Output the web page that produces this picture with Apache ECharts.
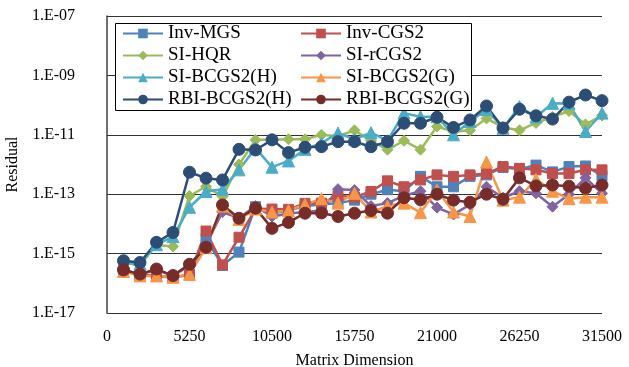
<!DOCTYPE html>
<html>
<head>
<meta charset="utf-8">
<script src="https://cdn.jsdelivr.net/npm/echarts@6/dist/echarts.min.js"></script>
<style>
  html, body { margin: 0; padding: 0; background: #fff; }
  #main { width: 629px; height: 367px; }
</style>
</head>
<body>
<div id="main"></div>
<script>
// matrix dimension
var dims = [1050, 2100, 3150, 4200, 5250, 6300, 7350, 8400, 9450, 10500,
  11550, 12600, 13650, 14700, 15750, 16800, 17850, 18900, 19950, 21000,
  22050, 23100, 24150, 25200, 26250, 27300, 28350, 29400, 30450, 31500];

// residuals as log10 values (the axis is a log10 scale)
var invMGS = [-15.55, -15.7, -15.75, -15.8, -15.7, -14.5, -15.4, -14.95, -13.42, -13.64,
  -13.55, -13.4, -13.35, -13.3, -13.2, -13.0, -12.85, -12.9, -12.4, -12.75,
  -12.75, -12.4, -12.35, -12.1, -12.15, -12.02, -12.25, -12.07, -12.05, -12.38];
var invCGS2 = [-15.55, -15.72, -15.77, -15.8, -15.72, -14.24, -15.38, -14.45, -13.49, -13.5,
  -13.51, -13.31, -13.3, -13.05, -13.1, -12.91, -12.55, -12.75, -12.52, -12.35,
  -12.4, -12.35, -12.3, -12.07, -12.13, -12.18, -12.3, -12.3, -12.18, -12.18];
var siHQR = [-15.32, -15.38, -14.71, -14.76, -13.06, -12.74, -13.08, -12.0, -11.17, -11.17,
  -11.15, -11.15, -11.0, -11.05, -10.85, -11.2, -11.5, -11.2, -11.5, -10.72,
  -10.9, -10.85, -10.45, -10.75, -10.85, -10.6, -10.4, -10.2, -10.65, -10.35];
var siRCGS2 = [-15.55, -15.7, -15.55, -15.75, -15.4, -14.7, -13.6, -13.8, -13.4, -13.75,
  -13.65, -13.6, -13.55, -12.83, -12.86, -13.4, -13.3, -13.05, -12.9, -13.45,
  -13.68, -13.35, -12.75, -13.12, -12.9, -12.97, -13.42, -13.0, -12.45, -12.97];
var siBCGS2H = [-15.3, -15.35, -14.7, -14.43, -13.44, -12.91, -12.83, -12.18, -11.45, -12.09,
  -11.88, -11.49, -11.28, -10.94, -11.15, -10.93, -11.2, -10.27, -10.39, -10.39,
  -11.0, -10.55, -10.15, -10.78, -10.05, -10.4, -9.94, -9.95, -10.89, -10.27];
var siBCGS2G = [-15.6, -15.75, -15.75, -15.8, -15.7, -14.8, -13.4, -13.85, -13.5, -13.6,
  -13.55, -13.35, -13.15, -13.3, -12.97, -13.6, -13.4, -13.3, -13.62, -12.86,
  -13.6, -13.75, -11.92, -13.2, -13.1, -12.5, -12.9, -13.15, -13.1, -13.1];
var rbiBCGS2H = [-15.24, -15.3, -14.62, -14.29, -12.26, -12.46, -12.52, -11.49, -11.51, -11.17,
  -11.6, -11.42, -11.4, -11.23, -11.23, -11.4, -11.23, -10.61, -10.61, -10.41,
  -10.75, -10.5, -10.03, -10.77, -10.14, -10.36, -10.47, -9.9, -9.66, -9.85];
var rbiBCGS2G = [-15.55, -15.69, -15.52, -15.74, -15.36, -14.79, -13.36, -13.81, -13.47, -14.15,
  -13.95, -13.64, -13.63, -13.75, -13.64, -13.55, -13.64, -13.12, -13.19, -13.0,
  -13.2, -13.27, -13.0, -13.17, -12.45, -12.72, -12.69, -12.73, -12.8, -12.69];

var names = ['Inv-MGS', 'Inv-CGS2', 'SI-HQR', 'SI-rCGS2', 'SI-BCGS2(H)', 'SI-BCGS2(G)', 'RBI-BCGS2(H)', 'RBI-BCGS2(G)'];
var values = [invMGS, invCGS2, siHQR, siRCGS2, siBCGS2H, siBCGS2G, rbiBCGS2H, rbiBCGS2G];
var colors = ['#4F81BD', '#C0504D', '#9BBB59', '#8064A2', '#4BACC6', '#F79646', '#2C4D75', '#772C2A'];
var symbols = ['rect', 'rect', 'diamond', 'diamond', 'triangle', 'triangle', 'circle', 'circle'];
var sizes = [10, 10, 11, 11, 12, 12, 12, 12];

var font = '"Liberation Serif", "Times New Roman", serif';

function toPairs(arr) {
  var out = [];
  for (var i = 0; i < arr.length; i++) {
    out.push([dims[i], arr[i]]);
  }
  return out;
}

var series = [];
for (var i = 0; i < names.length; i++) {
  series.push({
    name: names[i],
    type: 'line',
    data: toPairs(values[i]),
    symbol: symbols[i],
    symbolSize: sizes[i],
    showAllSymbol: true,
    lineStyle: { color: colors[i], width: 2.5 },
    itemStyle: { color: colors[i], borderColor: colors[i] },
    emphasis: { disabled: true },
    animation: false
  });
}

// legend in two columns (left: even entries, right: odd entries)
function legendCol(left, list) {
  return {
    data: list,
    orient: 'vertical',
    left: left,
    top: 24,
    itemWidth: 40,
    itemHeight: 12,
    itemGap: 3,
    padding: 0,
    z: 5,
    textStyle: { fontFamily: font, fontSize: 19, color: '#000', lineHeight: 15 }
  };
}

var myChart = echarts.init(document.getElementById('main'));
var option = {
  backgroundColor: '#fff',
  animation: false,
  grid: { left: 107, right: 27, top: 16, bottom: 54, containLabel: false, outerBoundsMode: 'none' },
  legend: [
    legendCol(122, [names[0], names[2], names[4], names[6]]),
    legendCol(300, [names[1], names[3], names[5], names[7]])
  ],
  graphic: [{
    type: 'rect',
    z: 4,
    shape: { x: 115.5, y: 23.5, width: 356, height: 87 },
    style: { fill: '#fff', stroke: '#000', lineWidth: 1 }
  }],
  xAxis: {
    type: 'value',
    min: 0,
    max: 31500,
    interval: 5250,
    name: 'Matrix Dimension',
    nameLocation: 'middle',
    nameGap: 40,
    nameTextStyle: { fontFamily: font, fontSize: 16, color: '#000' },
    axisLine: { show: false },
    axisTick: { show: false },
    splitLine: { show: false },
    axisLabel: {
      fontFamily: font, fontSize: 16, color: '#000', margin: 16,
      formatter: function (v) { return String(v); }
    }
  },
  yAxis: {
    // log10 of residual
    type: 'value',
    min: -17,
    max: -7,
    interval: 2,
    name: 'Residual',
    nameLocation: 'middle',
    nameGap: 80,
    nameTextStyle: { fontFamily: font, fontSize: 16, color: '#000' },
    axisLine: { show: true, lineStyle: { color: '#404040', width: 1.5 } },
    axisTick: { show: false },
    splitLine: { show: true, lineStyle: { color: '#333', width: 1.2 } },
    axisLabel: {
      fontFamily: font, fontSize: 16, color: '#000', margin: 32,
      formatter: function (v) {
        var a = Math.abs(v);
        return '1.E' + (v < 0 ? '-' : '+') + (a < 10 ? '0' + a : a);
      }
    }
  },
  series: series
};
myChart.setOption(option);
</script>
</body>
</html>
